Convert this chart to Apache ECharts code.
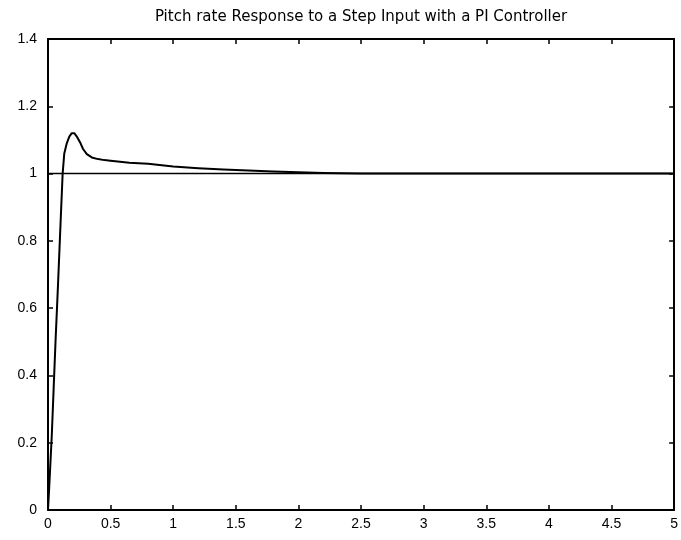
<!DOCTYPE html>
<html>
<head>
<meta charset="utf-8">
<script src="https://cdn.jsdelivr.net/npm/echarts@6/dist/echarts.min.js"></script>
<style>html,body{margin:0;padding:0;background:#fff}#c{width:681px;height:540px}</style>
</head>
<body>
<div id="c"></div>
<script>
const titleText = 'Pitch rate Response to a Step Input with a PI Controller';
const timeValues = [0, 0.01, 0.03, 0.045, 0.06, 0.08, 0.10, 0.117, 0.13, 0.15, 0.17, 0.19, 0.21, 0.23, 0.26, 0.28, 0.31, 0.35, 0.40, 0.45, 0.5, 0.65, 0.8, 1.0, 1.2, 1.4, 1.6, 1.8, 2.0, 2.2, 2.5, 3, 4, 5];
const responseValues = [0, 0.07, 0.22, 0.36, 0.5, 0.67, 0.85, 1.0, 1.06, 1.09, 1.11, 1.12, 1.12, 1.11, 1.09, 1.073, 1.058, 1.048, 1.043, 1.04, 1.038, 1.032, 1.029, 1.021, 1.016, 1.012, 1.009, 1.006, 1.004, 1.002, 1.0, 1.0, 1.0, 1.0];
const referenceTimes = [0, 5];
const referenceValues = [1, 1];

const font = 'Liberation Sans, Arial, sans-serif';
const chart = echarts.init(document.getElementById('c'), null, {renderer: 'canvas'});
const axisLine = {show: true, onZero: false, lineStyle: {color: '#000', width: 2}};
const tickIn = {show: true, inside: true, length: 5, lineStyle: {color: '#000', width: 1.5}};
chart.setOption({
  animation: false,
  backgroundColor: '#fff',
  title: {
    text: titleText, left: 356, top: 5, textAlign: 'center',
    textStyle: {fontFamily: 'DejaVu Sans', fontSize: 15, fontWeight: 'normal', color: '#000'}
  },
  grid: {left: 48, right: 5, top: 39, bottom: 30, containLabel: false},
  xAxis: [
    {type: 'value', min: 0, max: 5, interval: 0.5, position: 'bottom',
     axisLine, axisTick: tickIn, splitLine: {show: false},
     axisLabel: {color: '#000', fontFamily: font, fontSize: 14, margin: 7}},
    {type: 'value', min: 0, max: 5, interval: 0.5, position: 'top',
     axisLine, axisTick: tickIn, splitLine: {show: false}, axisLabel: {show: false}}
  ],
  yAxis: [
    {type: 'value', min: 0, max: 1.4, interval: 0.2, position: 'left',
     axisLine, axisTick: tickIn, splitLine: {show: false},
     axisLabel: {color: '#000', fontFamily: font, fontSize: 14, margin: 11}},
    {type: 'value', min: 0, max: 1.4, interval: 0.2, position: 'right',
     axisLine, axisTick: tickIn, splitLine: {show: false}, axisLabel: {show: false}}
  ],
  series: [
    {type: 'line', showSymbol: false, data: referenceTimes.map((t, i) => [t, referenceValues[i]]),
     lineStyle: {color: '#000', width: 1.5}},
    {type: 'line', showSymbol: false, smooth: false, data: timeValues.map((t, i) => [t, responseValues[i]]),
     lineStyle: {color: '#000', width: 2, join: 'round'}}
  ]
});
</script>
</body>
</html>
